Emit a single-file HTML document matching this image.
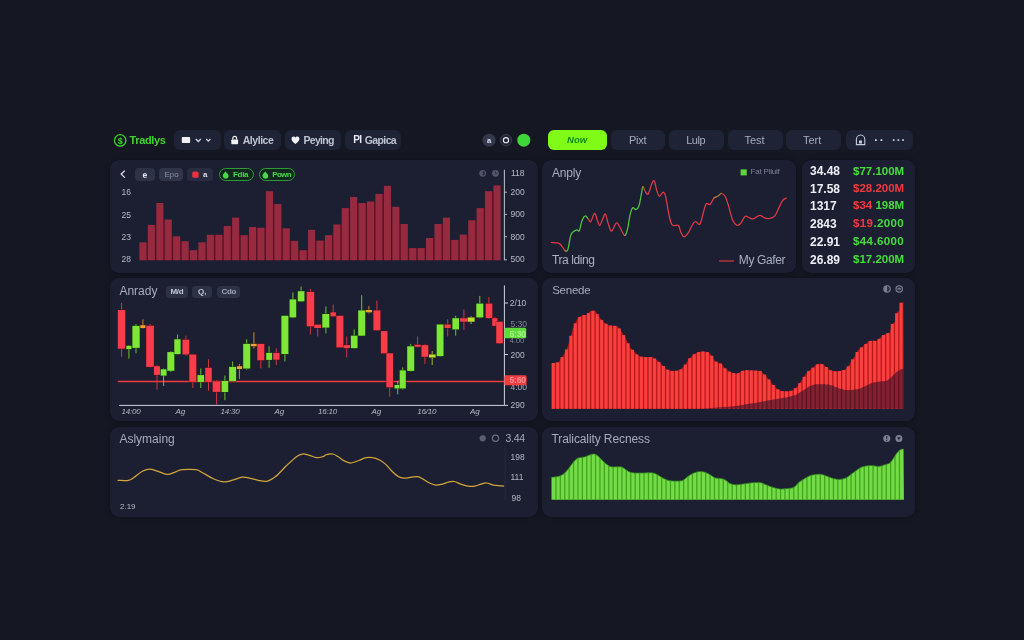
<!DOCTYPE html>
<html><head><meta charset="utf-8"><title>Tradlys</title>
<style>
html,body{margin:0;padding:0;}
body{width:1024px;height:640px;overflow:hidden;background:#151823;font-family:"Liberation Sans",sans-serif;position:relative;}
.bgv{position:absolute;left:0;top:0;width:1024px;height:640px;background:radial-gradient(ellipse 70% 75% at 50% 50%, rgba(28,32,48,0.12) 0%, rgba(20,23,34,0) 70%, rgba(8,9,14,0.10) 100%);}
.p{position:absolute;background:#1c1f32;border-radius:9px;box-shadow:0 0 5px rgba(5,6,12,0.35);}
.b{position:absolute;top:130px;height:19.5px;background:#1e2336;border-radius:6px;}
.t{position:absolute;white-space:nowrap;line-height:1;}
.ttl{color:#a6abbc;font-size:12px;}
.ax{color:#b6bac7;font-size:8.5px;}
.chip{position:absolute;border-radius:4px;background:#2d3246;}
svg{position:absolute;left:0;top:0;filter:blur(0.3px);}
.t{filter:blur(0.25px);}
.num{font-size:12px;font-weight:bold;color:#eef0f6;}
.val{font-size:11.5px;font-weight:bold;}
.g{color:#43dd3a;} .r{color:#f2383e;}
</style></head><body>

<!-- top bar -->
<div class="t" style="left:129.5px;top:134.5px;font-size:11px;font-weight:bold;color:#3fd22e;letter-spacing:-0.35px;">Tradlys</div>
<div class="b" style="left:173.6px;width:47.5px;"></div>
<div class="b" style="left:224.4px;width:56.9px;"></div>
<div class="b" style="left:285px;width:56.3px;"></div>
<div class="b" style="left:345.4px;width:55.6px;"></div>
<div class="t" style="left:242.7px;top:135.2px;font-size:10.5px;font-weight:bold;color:#bfc3d1;letter-spacing:-0.45px;">Alylice</div>
<div class="t" style="left:303.5px;top:135.2px;font-size:10.5px;font-weight:bold;color:#bfc3d1;letter-spacing:-0.7px;">Peying</div>
<div class="t" style="left:364.7px;top:135.2px;font-size:10.5px;font-weight:bold;color:#bfc3d1;letter-spacing:-0.6px;">Gapica</div>
<div class="t" style="left:353.3px;top:135.4px;font-size:10px;font-weight:bold;color:#e8eaf2;letter-spacing:-0.6px;">PI</div>

<div class="b" style="left:548px;width:58.7px;background:#80fb18;border-radius:6px;"></div>
<div class="t" style="left:567px;top:134.9px;font-size:9.5px;font-weight:bold;font-style:italic;color:#0f8a14;letter-spacing:0.1px;">Now</div>
<div class="b" style="left:610.8px;width:54px;"></div>
<div class="b" style="left:668.9px;width:54.7px;"></div>
<div class="b" style="left:728px;width:54.8px;"></div>
<div class="b" style="left:786px;width:55.2px;"></div>
<div class="b" style="left:846.2px;width:66.5px;"></div>
<div class="t" style="left:629px;top:134.6px;font-size:11px;color:#a7acbd;letter-spacing:-0.25px;">Pixt</div>
<div class="t" style="left:686.2px;top:134.6px;font-size:11px;color:#a7acbd;letter-spacing:-0.45px;">Lulp</div>
<div class="t" style="left:744.5px;top:134.6px;font-size:11px;color:#a7acbd;">Test</div>
<div class="t" style="left:803px;top:134.6px;font-size:11px;color:#a7acbd;">Tert</div>

<!-- panels -->
<div class="p" style="left:109.5px;top:160px;width:428px;height:112.5px;"></div>
<div class="p" style="left:542px;top:160px;width:253.5px;height:112.5px;"></div>
<div class="p" style="left:801.5px;top:160px;width:113.5px;height:112.5px;"></div>
<div class="p" style="left:109.5px;top:278px;width:428px;height:143.3px;"></div>
<div class="p" style="left:542px;top:278px;width:373px;height:143.3px;"></div>
<div class="p" style="left:109.5px;top:427.3px;width:428px;height:90px;"></div>
<div class="p" style="left:542px;top:427.3px;width:373px;height:90px;"></div>

<!-- panel 1 chips -->
<div class="chip" style="left:134.9px;top:168.4px;width:20.2px;height:12.2px;"></div>
<div class="chip" style="left:158.9px;top:168.4px;width:24.3px;height:12.2px;background:#30354a;"></div>
<div class="chip" style="left:186.6px;top:168.4px;width:26.3px;height:12.2px;background:#272c41;"></div>
<div class="chip" style="left:218.9px;top:168.4px;width:33.6px;height:10.2px;border-radius:7px;border:1px solid #2f9a35;background:#10271d;"></div>
<div class="chip" style="left:258.6px;top:168.4px;width:34.2px;height:10.2px;border-radius:7px;border:1px solid #2f9a35;background:#10271d;"></div>
<div class="t" style="left:142.5px;top:170.6px;font-size:8.5px;font-weight:bold;color:#e6e8f0;">e</div>
<div class="t" style="left:164.5px;top:170.8px;font-size:8px;color:#8b91a6;">Epo</div>
<div class="t" style="left:203px;top:170.8px;font-size:8px;font-weight:bold;color:#d6d9e4;">a</div>
<div class="t" style="left:233px;top:170.8px;font-size:8px;font-weight:bold;color:#45d84a;letter-spacing:-0.3px;">Fdia</div>
<div class="t" style="left:272.3px;top:170.8px;font-size:8px;font-weight:bold;color:#45d84a;letter-spacing:-0.7px;">Pown</div>

<!-- panel 1 axis labels -->
<div class="t ax" style="left:121.5px;top:188px;">16</div>
<div class="t ax" style="left:121.5px;top:210.6px;">25</div>
<div class="t ax" style="left:121.5px;top:232.8px;">23</div>
<div class="t ax" style="left:121.5px;top:254.6px;">28</div>
<div class="t ax" style="left:511px;top:169.2px;">118</div>
<div class="t ax" style="left:510.5px;top:188px;">200</div>
<div class="t ax" style="left:510.5px;top:210.2px;">900</div>
<div class="t ax" style="left:510.5px;top:232.5px;">800</div>
<div class="t ax" style="left:510.5px;top:254.6px;">500</div>

<!-- panel 2 texts -->
<div class="t ttl" style="left:552px;top:167.2px;letter-spacing:-0.2px;">Anply</div>
<div class="t" style="left:750.5px;top:168.4px;font-size:8px;color:#7d8398;letter-spacing:-0.2px;">Fat Pilulf</div>
<div class="t ttl" style="left:552px;top:253.6px;color:#aab0c1;letter-spacing:-0.43px;">Tra lding</div>
<div class="t ttl" style="left:738.8px;top:253.6px;color:#aab0c1;letter-spacing:-0.36px;">My Gafer</div>

<!-- panel 3 numbers -->
<div class="t num" style="left:810px;top:165.4px;">34.48</div><div class="t val g" style="left:853px;top:165.6px;">$77.100M</div>
<div class="t num" style="left:810px;top:182.8px;">17.58</div><div class="t val r" style="left:853px;top:183px;">$28.200M</div>
<div class="t num" style="left:810px;top:200.2px;">1317</div><div class="t val" style="left:853px;top:200.4px;"><span class="r">$34</span> <span class="g">198M</span></div>
<div class="t num" style="left:810px;top:217.8px;">2843</div><div class="t val" style="left:853px;top:218px;"><span class="r" style="letter-spacing:0.4px">$19</span><span class="g" style="letter-spacing:0.4px">.2000</span></div>
<div class="t num" style="left:810px;top:236.2px;">22.91</div><div class="t val g" style="left:853px;top:236.4px;letter-spacing:0.4px;">$44.6000</div>
<div class="t num" style="left:810px;top:253.6px;">26.89</div><div class="t val g" style="left:853px;top:253.8px;">$17.200M</div>

<!-- panel 4 texts -->
<div class="t ttl" style="left:119.4px;top:284.6px;">Anrady</div>
<div class="chip" style="left:166px;top:285.6px;width:22.4px;height:12.6px;"></div>
<div class="chip" style="left:192.3px;top:285.6px;width:20px;height:12.6px;"></div>
<div class="chip" style="left:217px;top:285.6px;width:23px;height:12.6px;"></div>
<div class="t" style="left:170.5px;top:288px;font-size:8px;font-weight:bold;color:#c4c8d6;letter-spacing:-0.3px;">M/d</div>
<div class="t" style="left:198px;top:288px;font-size:8px;font-weight:bold;color:#c4c8d6;">Q,</div>
<div class="t" style="left:221.5px;top:288px;font-size:8px;font-weight:bold;color:#9fa5b8;letter-spacing:-0.3px;">Cdo</div>

<div class="t ax" style="left:121.6px;top:408.4px;font-size:8px;font-style:italic;letter-spacing:-0.2px;">14:00</div>
<div class="t ax" style="left:175.5px;top:408.4px;font-size:8px;font-style:italic;">Ag</div>
<div class="t ax" style="left:220.5px;top:408.4px;font-size:8px;font-style:italic;letter-spacing:-0.2px;">14:30</div>
<div class="t ax" style="left:274.4px;top:408.4px;font-size:8px;font-style:italic;">Ag</div>
<div class="t ax" style="left:318px;top:408.4px;font-size:8px;font-style:italic;letter-spacing:-0.2px;">16:10</div>
<div class="t ax" style="left:371.5px;top:408.4px;font-size:8px;font-style:italic;">Ag</div>
<div class="t ax" style="left:417.2px;top:408.4px;font-size:8px;font-style:italic;letter-spacing:-0.2px;">16/10</div>
<div class="t ax" style="left:470px;top:408.4px;font-size:8px;font-style:italic;">Ag</div>

<div class="t ax" style="left:509.8px;top:298.8px;">2/10</div>
<div class="t ax" style="left:510.5px;top:320.2px;color:#7f8598;">5:30</div>
<div class="t ax" style="left:510.5px;top:350.8px;">200</div>
<div class="t ax" style="left:510.5px;top:383.4px;color:#a9aebd;">4:00</div>
<div class="t ax" style="left:510.5px;top:401.2px;">290</div>

<!-- panel 5/6/7 texts -->
<div class="t ttl" style="left:552.2px;top:285px;font-size:11.5px;letter-spacing:-0.25px;">Senede</div>
<div class="t ttl" style="left:119.4px;top:432.8px;">Aslymaing</div>
<div class="t ttl" style="left:551.5px;top:432.8px;letter-spacing:-0.1px;">Tralicality Recness</div>
<div class="t ax" style="left:120px;top:502.8px;font-size:8px;">2.19</div>
<div class="t" style="left:505.5px;top:433.2px;font-size:10.5px;color:#a3a9bb;letter-spacing:-0.3px;">3.44</div>
<div class="t ax" style="left:510.5px;top:452.6px;color:#b4b9c8;">198</div>
<div class="t ax" style="left:510.5px;top:473px;color:#b4b9c8;">111</div>
<div class="t ax" style="left:511.5px;top:493.8px;color:#b4b9c8;">98</div>

<svg width="1024" height="640" viewBox="0 0 1024 640">
<!-- logo -->
<circle cx="120.2" cy="140.4" r="5.7" fill="none" stroke="#3fd22e" stroke-width="1.3"/>
<text x="120.2" y="143.6" font-family="Liberation Sans" font-size="9" font-weight="bold" fill="#3fd22e" text-anchor="middle">$</text>
<!-- btn1 icons -->
<rect x="181.8" y="137.1" width="8.3" height="5.9" rx="0.8" fill="#f1eef4"/>
<polyline points="195.8,139 198.3,141.5 200.8,139" fill="none" stroke="#d4d7e2" stroke-width="1.3"/>
<polyline points="206.2,139 208.3,141.2 210.4,139" fill="none" stroke="#d4d7e2" stroke-width="1.2"/>
<!-- lock -->
<rect x="231.3" y="139.4" width="6.8" height="4.9" rx="0.8" fill="#f1f1f6"/>
<path d="M232.8,139.6 v-1.4 a1.9,1.9 0 0 1 3.8,0 v1.4" fill="none" stroke="#f1f1f6" stroke-width="1.2"/>
<!-- heart -->
<path d="M295.4,144 C292.6,141.8 291.5,140.3 291.5,138.7 C291.5,137.4 292.5,136.5 293.6,136.5 C294.4,136.5 295.1,136.9 295.4,137.6 C295.7,136.9 296.4,136.5 297.2,136.5 C298.4,136.5 299.4,137.4 299.4,138.7 C299.4,140.3 298.2,141.8 295.4,144Z" fill="#f4f4f8"/>
<!-- center icons -->
<circle cx="489" cy="140.2" r="6.5" fill="#33384c"/>
<circle cx="506" cy="140.2" r="5.7" fill="#1f2334" stroke="#393e52" stroke-width="1"/>
<text x="489" y="143" font-family="Liberation Sans" font-size="7.5" font-weight="bold" fill="#dfe2ec" text-anchor="middle">a</text>
<circle cx="506" cy="140.2" r="2.6" fill="none" stroke="#e8eaf2" stroke-width="1.1"/>
<circle cx="523.8" cy="140.2" r="6.5" fill="#3fd63a"/>
<!-- last button icons -->
<path d="M856.4,144.6 v-5 a4.2,4.6 0 0 1 8.4,0 v5 z" fill="none" stroke="#c8cbe0" stroke-width="1.1"/>
<rect x="859" y="140.5" width="3" height="3" fill="#c8cbe0"/>
<rect x="875" y="139.2" width="1.8" height="1.8" fill="#d0d3e0"/><rect x="880.5" y="139.2" width="1.8" height="1.8" fill="#d0d3e0"/>
<rect x="892.8" y="139.2" width="1.7" height="1.7" fill="#d0d3e0"/><rect x="897.5" y="139.2" width="1.7" height="1.7" fill="#d0d3e0"/><rect x="902.2" y="139.2" width="1.7" height="1.7" fill="#d0d3e0"/>

<!-- panel1 -->
<polyline points="124.8,170.6 121.2,174.1 124.8,177.6" fill="none" stroke="#e2e4ec" stroke-width="1.3"/>
<rect x="192.3" y="171.6" width="6.3" height="6.2" rx="1.6" fill="#ee2f3e"/>
<path d="M223,176.8 c-0.8,-2 0.4,-3.4 2.6,-5.4 c0.6,1.4 3,2.4 3,4.6 c0,1.8 -1.4,2.8 -2.9,2.8 c-1.3,0 -2.2,-0.7 -2.7,-2z" fill="#45d84a"/>
<path d="M262.7,176.8 c-0.8,-2 0.4,-3.4 2.6,-5.4 c0.6,1.4 3,2.4 3,4.6 c0,1.8 -1.4,2.8 -2.9,2.8 c-1.3,0 -2.2,-0.7 -2.7,-2z" fill="#45d84a"/>
<g fill="#5a0f24"><rect x="146.3" y="242.3" width="1.7" height="18.0"/><rect x="154.7" y="224.9" width="1.7" height="35.4"/><rect x="163.2" y="219.5" width="1.7" height="40.8"/><rect x="171.6" y="236.3" width="1.7" height="24.0"/><rect x="180.0" y="241.2" width="1.7" height="19.1"/><rect x="188.5" y="250.2" width="1.7" height="10.1"/><rect x="196.9" y="250.2" width="1.7" height="10.1"/><rect x="205.3" y="242.3" width="1.7" height="18.0"/><rect x="213.7" y="234.8" width="1.7" height="25.5"/><rect x="222.2" y="234.8" width="1.7" height="25.5"/><rect x="230.6" y="226.0" width="1.7" height="34.3"/><rect x="239.0" y="235.2" width="1.7" height="25.1"/><rect x="247.5" y="235.2" width="1.7" height="25.1"/><rect x="255.9" y="227.7" width="1.7" height="32.6"/><rect x="264.3" y="227.7" width="1.7" height="32.6"/><rect x="272.8" y="204.0" width="1.7" height="56.3"/><rect x="281.2" y="228.3" width="1.7" height="32.0"/><rect x="289.6" y="240.8" width="1.7" height="19.5"/><rect x="298.0" y="250.2" width="1.7" height="10.1"/><rect x="306.5" y="250.2" width="1.7" height="10.1"/><rect x="314.9" y="240.6" width="1.7" height="19.7"/><rect x="323.3" y="240.6" width="1.7" height="19.7"/><rect x="331.8" y="235.2" width="1.7" height="25.1"/><rect x="340.2" y="224.5" width="1.7" height="35.8"/><rect x="348.6" y="208.1" width="1.7" height="52.2"/><rect x="357.1" y="203.0" width="1.7" height="57.3"/><rect x="365.5" y="203.0" width="1.7" height="57.3"/><rect x="373.9" y="201.5" width="1.7" height="58.8"/><rect x="382.3" y="193.9" width="1.7" height="66.4"/><rect x="390.8" y="206.8" width="1.7" height="53.5"/><rect x="399.2" y="224.0" width="1.7" height="36.3"/><rect x="407.6" y="248.1" width="1.7" height="12.2"/><rect x="416.1" y="248.1" width="1.7" height="12.2"/><rect x="424.5" y="248.1" width="1.7" height="12.2"/><rect x="432.9" y="238.0" width="1.7" height="22.3"/><rect x="441.4" y="224.0" width="1.7" height="36.3"/><rect x="449.8" y="239.9" width="1.7" height="20.4"/><rect x="458.2" y="239.9" width="1.7" height="20.4"/><rect x="466.6" y="234.6" width="1.7" height="25.7"/><rect x="475.1" y="220.2" width="1.7" height="40.1"/><rect x="483.5" y="208.1" width="1.7" height="52.2"/><rect x="491.9" y="191.2" width="1.7" height="69.1"/></g><g fill="#982a40"><rect x="139.4" y="242.3" width="7.1" height="18.0"/><rect x="147.8" y="224.9" width="7.1" height="35.4"/><rect x="156.3" y="203.0" width="7.1" height="57.3"/><rect x="164.7" y="219.5" width="7.1" height="40.8"/><rect x="173.1" y="236.3" width="7.1" height="24.0"/><rect x="181.6" y="241.2" width="7.1" height="19.1"/><rect x="190.0" y="250.2" width="7.1" height="10.1"/><rect x="198.4" y="242.3" width="7.1" height="18.0"/><rect x="206.8" y="234.8" width="7.1" height="25.5"/><rect x="215.3" y="234.8" width="7.1" height="25.5"/><rect x="223.7" y="226.0" width="7.1" height="34.3"/><rect x="232.1" y="217.6" width="7.1" height="42.7"/><rect x="240.6" y="235.2" width="7.1" height="25.1"/><rect x="249.0" y="227.0" width="7.1" height="33.3"/><rect x="257.4" y="227.7" width="7.1" height="32.6"/><rect x="265.9" y="191.2" width="7.1" height="69.1"/><rect x="274.3" y="204.0" width="7.1" height="56.3"/><rect x="282.7" y="228.3" width="7.1" height="32.0"/><rect x="291.1" y="240.8" width="7.1" height="19.5"/><rect x="299.6" y="250.2" width="7.1" height="10.1"/><rect x="308.0" y="229.8" width="7.1" height="30.5"/><rect x="316.4" y="240.6" width="7.1" height="19.7"/><rect x="324.9" y="235.2" width="7.1" height="25.1"/><rect x="333.3" y="224.5" width="7.1" height="35.8"/><rect x="341.7" y="208.1" width="7.1" height="52.2"/><rect x="350.1" y="197.0" width="7.1" height="63.3"/><rect x="358.6" y="203.0" width="7.1" height="57.3"/><rect x="367.0" y="201.5" width="7.1" height="58.8"/><rect x="375.4" y="193.9" width="7.1" height="66.4"/><rect x="383.9" y="185.8" width="7.1" height="74.5"/><rect x="392.3" y="206.8" width="7.1" height="53.5"/><rect x="400.7" y="224.0" width="7.1" height="36.3"/><rect x="409.2" y="248.1" width="7.1" height="12.2"/><rect x="417.6" y="248.1" width="7.1" height="12.2"/><rect x="426.0" y="238.0" width="7.1" height="22.3"/><rect x="434.5" y="224.0" width="7.1" height="36.3"/><rect x="442.9" y="217.6" width="7.1" height="42.7"/><rect x="451.3" y="239.9" width="7.1" height="20.4"/><rect x="459.7" y="234.6" width="7.1" height="25.7"/><rect x="468.2" y="220.2" width="7.1" height="40.1"/><rect x="476.6" y="208.1" width="7.1" height="52.2"/><rect x="485.0" y="191.2" width="7.1" height="69.1"/><rect x="493.5" y="185.4" width="7.1" height="74.9"/></g>
<line x1="504.4" x2="504.4" y1="169.7" y2="260.3" stroke="#b4b8c4" stroke-width="1.1"/>
<g stroke="#b4b8c4" stroke-width="1"><line x1="504.4" x2="507" y1="192.2" y2="192.2"/><line x1="504.4" x2="507" y1="214.4" y2="214.4"/><line x1="504.4" x2="507" y1="236.7" y2="236.7"/><line x1="504.4" x2="507" y1="259.8" y2="259.8"/></g>
<circle cx="482.7" cy="173.3" r="3.4" fill="#50556a"/><circle cx="495.5" cy="173.3" r="3.4" fill="#50556a"/><path d="M482.7,170.9 v4.8 a2.4,2.4 0 0 0 0,-4.8z" fill="#2a2f42"/><path d="M495.5,171.3 v2.2 h2" stroke="#2a2f42" stroke-width="0.9" fill="none"/>

<!-- panel2 -->
<path d="M551.4,242.5C552.7,242.7 557.1,242.4 559.0,243.3C560.9,244.1 561.8,246.3 562.9,247.6C563.9,248.9 564.5,250.6 565.4,250.9" fill="none" stroke="#e23a44" stroke-width="1.25" stroke-linecap="round"/><path d="M565.4,250.9C566.2,251.2 567.1,251.8 567.9,249.4C568.8,246.9 569.7,239.0 570.5,236.2C571.2,233.3 571.4,233.4 572.5,232.4C573.6,231.3 575.7,230.1 576.8,229.8C578.0,229.5 578.5,232.1 579.4,230.6C580.2,229.1 580.9,223.4 581.9,220.9C582.9,218.5 584.1,216.2 585.2,215.9C586.3,215.5 587.3,217.9 588.2,218.9" fill="none" stroke="#4cc83c" stroke-width="1.25" stroke-linecap="round"/><path d="M588.2,218.9C589.2,219.9 589.7,222.6 590.8,221.7C591.8,220.8 593.5,213.7 594.6,213.3C595.7,213.0 596.3,217.6 597.1,219.7C598.0,221.7 598.7,225.7 599.7,225.5C600.6,225.3 602.0,220.3 603.0,218.4C603.9,216.5 604.6,213.0 605.5,214.1C606.4,215.1 607.5,221.9 608.6,224.8C609.6,227.6 610.3,231.4 611.6,231.1C612.9,230.8 614.9,223.8 616.2,223.0C617.5,222.1 618.2,224.5 619.2,226.0C620.3,227.6 621.6,230.8 622.5,232.4C623.5,233.9 624.2,236.1 625.1,235.4" fill="none" stroke="#e23a44" stroke-width="1.25" stroke-linecap="round"/><path d="M625.1,235.4C625.9,234.8 626.8,232.0 627.6,228.6C628.5,225.1 629.3,218.1 630.1,214.6C631.0,211.1 631.7,208.6 632.7,207.7C633.7,206.9 634.9,209.9 636.0,209.5C637.0,209.2 638.2,208.0 639.0,205.7C639.9,203.4 640.4,198.7 641.1,195.6C641.7,192.4 642.3,187.6 642.8,186.7" fill="none" stroke="#4cc83c" stroke-width="1.25" stroke-linecap="round"/><path d="M642.8,186.7C643.4,185.7 643.8,188.7 644.6,190.0C645.5,191.2 646.7,195.3 647.9,194.3C649.1,193.3 650.7,186.4 651.7,184.1C652.8,181.9 653.4,179.8 654.3,180.8C655.1,181.9 656.0,187.9 656.8,190.5C657.7,193.1 658.3,196.0 659.3,196.3C660.4,196.6 662.1,192.2 663.2,192.2C664.2,192.3 664.9,193.7 665.7,196.8C666.5,199.9 667.4,206.6 668.2,210.8C669.1,215.0 669.9,219.8 670.8,222.2C671.6,224.7 672.0,225.0 673.3,225.5C674.6,226.1 677.1,224.4 678.4,225.5C679.7,226.7 680.0,230.5 680.9,232.4C681.9,234.3 682.7,236.9 684.0,236.9C685.3,236.9 687.2,234.4 688.6,232.4C689.9,230.3 691.2,226.6 692.4,224.8C693.5,222.9 694.1,221.6 695.4,221.5C696.7,221.3 698.6,225.8 700.0,224.0C701.4,222.2 702.7,214.2 703.8,210.8C704.8,207.4 705.3,204.7 706.3,203.7C707.4,202.6 708.9,205.4 710.1,204.4C711.4,203.5 712.7,199.4 713.9,198.1" fill="none" stroke="#e23a44" stroke-width="1.25" stroke-linecap="round"/><path d="M713.9,198.1C715.2,196.7 716.5,197.1 717.8,196.3C719.0,195.6 720.3,193.4 721.6,193.5" fill="none" stroke="#b8843a" stroke-width="1.25" stroke-linecap="round"/><path d="M721.6,193.5C722.8,193.6 724.1,194.4 725.4,196.8C726.6,199.3 728.0,204.4 729.2,208.2C730.4,212.1 731.2,216.8 732.5,219.7C733.8,222.5 735.4,224.6 736.8,225.3C738.2,225.9 739.2,225.0 740.6,223.5C742.0,222.0 743.7,217.3 745.2,216.4C746.7,215.4 748.1,217.5 749.5,217.9C750.9,218.3 751.6,219.3 753.3,218.9C755.0,218.5 757.8,215.5 759.7,215.4C761.6,215.2 763.0,217.4 764.7,217.9C766.4,218.4 768.1,218.7 769.8,218.4C771.5,218.1 773.4,217.6 774.9,215.9C776.4,214.2 777.4,210.8 778.7,208.2C780.0,205.7 781.2,202.3 782.5,200.6C783.8,198.9 785.7,198.5 786.3,198.1" fill="none" stroke="#e23a44" stroke-width="1.25" stroke-linecap="round"/>
<rect x="740.6" y="169.4" width="6.2" height="6" fill="#5fd23c"/>
<line x1="719" x2="734" y1="261" y2="261" stroke="#d63a40" stroke-width="1.2"/>

<!-- panel4 -->
<line x1="117.8" x2="504.4" y1="381.4" y2="381.4" stroke="#ee3a3c" stroke-width="1.5"/>
<line x1="121.6" x2="121.6" y1="302.9" y2="356.8" stroke="#f93c49" stroke-width="0.9" stroke-opacity="0.9"/><rect x="117.8" y="310.0" width="7.5" height="38.7" fill="#f93c49" stroke="#4a0c1a" stroke-width="1.0" stroke-opacity="0.8" paint-order="stroke"/><line x1="128.9" x2="128.9" y1="345.1" y2="358.5" stroke="#7de637" stroke-width="0.9" stroke-opacity="0.9"/><rect x="126.3" y="345.8" width="5.2" height="3.3" fill="#7de637" stroke="#123c10" stroke-width="1.0" stroke-opacity="0.8" paint-order="stroke"/><line x1="136.0" x2="136.0" y1="324.0" y2="353.3" stroke="#7de637" stroke-width="0.9" stroke-opacity="0.9"/><rect x="132.4" y="325.9" width="7.3" height="22.0" fill="#7de637" stroke="#123c10" stroke-width="1.0" stroke-opacity="0.8" paint-order="stroke"/><line x1="142.9" x2="142.9" y1="319.3" y2="328.7" stroke="#f0a030" stroke-width="0.9" stroke-opacity="0.9"/><rect x="140.3" y="325.2" width="5.2" height="2.8" fill="#f0a030" stroke="#3a2a10" stroke-width="1.0" stroke-opacity="0.8" paint-order="stroke"/><line x1="150.1" x2="150.1" y1="324.0" y2="367.4" stroke="#f93c49" stroke-width="0.9" stroke-opacity="0.9"/><rect x="146.2" y="325.7" width="7.7" height="41.2" fill="#f93c49" stroke="#4a0c1a" stroke-width="1.0" stroke-opacity="0.8" paint-order="stroke"/><line x1="157.0" x2="157.0" y1="365.0" y2="389.6" stroke="#f93c49" stroke-width="0.9" stroke-opacity="0.9"/><rect x="153.9" y="366.2" width="6.1" height="8.7" fill="#f93c49" stroke="#4a0c1a" stroke-width="1.0" stroke-opacity="0.8" paint-order="stroke"/><line x1="163.6" x2="163.6" y1="368.5" y2="386.1" stroke="#7de637" stroke-width="0.9" stroke-opacity="0.9"/><rect x="160.7" y="369.3" width="5.9" height="6.3" fill="#7de637" stroke="#123c10" stroke-width="1.0" stroke-opacity="0.8" paint-order="stroke"/><line x1="170.8" x2="170.8" y1="351.0" y2="372.1" stroke="#7de637" stroke-width="0.9" stroke-opacity="0.9"/><rect x="167.3" y="352.1" width="7.0" height="18.7" fill="#7de637" stroke="#123c10" stroke-width="1.0" stroke-opacity="0.8" paint-order="stroke"/><line x1="177.5" x2="177.5" y1="334.6" y2="354.5" stroke="#7de637" stroke-width="0.9" stroke-opacity="0.9"/><rect x="174.3" y="339.3" width="6.3" height="14.8" fill="#7de637" stroke="#123c10" stroke-width="1.0" stroke-opacity="0.8" paint-order="stroke"/><line x1="185.9" x2="185.9" y1="335.7" y2="355.7" stroke="#f93c49" stroke-width="0.9" stroke-opacity="0.9"/><rect x="182.5" y="339.7" width="6.8" height="14.8" fill="#f93c49" stroke="#4a0c1a" stroke-width="1.0" stroke-opacity="0.8" paint-order="stroke"/><line x1="192.8" x2="192.8" y1="354.5" y2="388.0" stroke="#f93c49" stroke-width="0.9" stroke-opacity="0.9"/><rect x="189.3" y="354.5" width="7.0" height="27.4" fill="#f93c49" stroke="#4a0c1a" stroke-width="1.0" stroke-opacity="0.8" paint-order="stroke"/><line x1="200.8" x2="200.8" y1="368.5" y2="388.0" stroke="#7de637" stroke-width="0.9" stroke-opacity="0.9"/><rect x="197.5" y="375.1" width="6.6" height="6.8" fill="#7de637" stroke="#123c10" stroke-width="1.0" stroke-opacity="0.8" paint-order="stroke"/><line x1="208.5" x2="208.5" y1="359.2" y2="390.8" stroke="#f93c49" stroke-width="0.9" stroke-opacity="0.9"/><rect x="205.2" y="367.8" width="6.6" height="14.1" fill="#f93c49" stroke="#4a0c1a" stroke-width="1.0" stroke-opacity="0.8" paint-order="stroke"/><line x1="216.6" x2="216.6" y1="380.3" y2="404.4" stroke="#f93c49" stroke-width="0.9" stroke-opacity="0.9"/><rect x="212.7" y="381.4" width="7.7" height="10.5" fill="#f93c49" stroke="#4a0c1a" stroke-width="1.0" stroke-opacity="0.8" paint-order="stroke"/><line x1="224.9" x2="224.9" y1="375.6" y2="400.2" stroke="#7de637" stroke-width="0.9" stroke-opacity="0.9"/><rect x="221.6" y="381.0" width="6.6" height="11.0" fill="#7de637" stroke="#123c10" stroke-width="1.0" stroke-opacity="0.8" paint-order="stroke"/><line x1="232.6" x2="232.6" y1="361.5" y2="381.4" stroke="#7de637" stroke-width="0.9" stroke-opacity="0.9"/><rect x="229.1" y="366.9" width="7.0" height="14.1" fill="#7de637" stroke="#123c10" stroke-width="1.0" stroke-opacity="0.8" paint-order="stroke"/><line x1="239.4" x2="239.4" y1="363.9" y2="379.1" stroke="#f0a030" stroke-width="0.9" stroke-opacity="0.9"/><rect x="236.9" y="366.2" width="5.2" height="2.8" fill="#f0a030" stroke="#3a2a10" stroke-width="1.0" stroke-opacity="0.8" paint-order="stroke"/><line x1="246.7" x2="246.7" y1="339.3" y2="369.7" stroke="#7de637" stroke-width="0.9" stroke-opacity="0.9"/><rect x="243.2" y="343.9" width="7.0" height="24.6" fill="#7de637" stroke="#123c10" stroke-width="1.0" stroke-opacity="0.8" paint-order="stroke"/><line x1="253.9" x2="253.9" y1="332.2" y2="348.6" stroke="#f0a030" stroke-width="0.9" stroke-opacity="0.9"/><rect x="250.9" y="343.9" width="5.9" height="2.3" fill="#f0a030" stroke="#3a2a10" stroke-width="1.0" stroke-opacity="0.8" paint-order="stroke"/><line x1="260.8" x2="260.8" y1="343.9" y2="368.5" stroke="#f93c49" stroke-width="0.9" stroke-opacity="0.9"/><rect x="257.3" y="343.9" width="7.0" height="16.4" fill="#f93c49" stroke="#4a0c1a" stroke-width="1.0" stroke-opacity="0.8" paint-order="stroke"/><line x1="269.1" x2="269.1" y1="346.3" y2="367.8" stroke="#7de637" stroke-width="0.9" stroke-opacity="0.9"/><rect x="266.2" y="352.9" width="5.9" height="7.0" fill="#7de637" stroke="#123c10" stroke-width="1.0" stroke-opacity="0.8" paint-order="stroke"/><line x1="276.3" x2="276.3" y1="348.2" y2="365.0" stroke="#f93c49" stroke-width="0.9" stroke-opacity="0.9"/><rect x="273.2" y="352.9" width="6.3" height="6.8" fill="#f93c49" stroke="#4a0c1a" stroke-width="1.0" stroke-opacity="0.8" paint-order="stroke"/><line x1="284.9" x2="284.9" y1="315.8" y2="361.5" stroke="#7de637" stroke-width="0.9" stroke-opacity="0.9"/><rect x="281.4" y="315.8" width="7.0" height="38.2" fill="#7de637" stroke="#123c10" stroke-width="1.0" stroke-opacity="0.8" paint-order="stroke"/><line x1="292.9" x2="292.9" y1="292.4" y2="318.2" stroke="#7de637" stroke-width="0.9" stroke-opacity="0.9"/><rect x="289.6" y="299.4" width="6.6" height="18.0" fill="#7de637" stroke="#123c10" stroke-width="1.0" stroke-opacity="0.8" paint-order="stroke"/><line x1="301.1" x2="301.1" y1="286.5" y2="301.8" stroke="#7de637" stroke-width="0.9" stroke-opacity="0.9"/><rect x="297.8" y="291.2" width="6.6" height="10.1" fill="#7de637" stroke="#123c10" stroke-width="1.0" stroke-opacity="0.8" paint-order="stroke"/><line x1="310.4" x2="310.4" y1="288.9" y2="334.6" stroke="#f93c49" stroke-width="0.9" stroke-opacity="0.9"/><rect x="306.7" y="291.9" width="7.5" height="34.4" fill="#f93c49" stroke="#4a0c1a" stroke-width="1.0" stroke-opacity="0.8" paint-order="stroke"/><line x1="317.7" x2="317.7" y1="324.0" y2="336.4" stroke="#f93c49" stroke-width="0.9" stroke-opacity="0.9"/><rect x="314.2" y="324.7" width="7.0" height="3.3" fill="#f93c49" stroke="#4a0c1a" stroke-width="1.0" stroke-opacity="0.8" paint-order="stroke"/><line x1="325.9" x2="325.9" y1="306.5" y2="333.4" stroke="#7de637" stroke-width="0.9" stroke-opacity="0.9"/><rect x="322.3" y="314.0" width="7.0" height="13.6" fill="#7de637" stroke="#123c10" stroke-width="1.0" stroke-opacity="0.8" paint-order="stroke"/><line x1="333.2" x2="333.2" y1="304.6" y2="317.0" stroke="#f93c49" stroke-width="0.9" stroke-opacity="0.9"/><rect x="330.5" y="312.3" width="5.4" height="4.0" fill="#f93c49" stroke="#4a0c1a" stroke-width="1.0" stroke-opacity="0.8" paint-order="stroke"/><line x1="339.9" x2="339.9" y1="315.8" y2="347.5" stroke="#f93c49" stroke-width="0.9" stroke-opacity="0.9"/><rect x="336.4" y="315.8" width="7.0" height="31.6" fill="#f93c49" stroke="#4a0c1a" stroke-width="1.0" stroke-opacity="0.8" paint-order="stroke"/><line x1="346.7" x2="346.7" y1="336.4" y2="357.5" stroke="#f93c49" stroke-width="0.9" stroke-opacity="0.9"/><rect x="343.4" y="345.1" width="6.6" height="3.0" fill="#f93c49" stroke="#4a0c1a" stroke-width="1.0" stroke-opacity="0.8" paint-order="stroke"/><line x1="354.2" x2="354.2" y1="329.4" y2="348.6" stroke="#7de637" stroke-width="0.9" stroke-opacity="0.9"/><rect x="350.9" y="335.7" width="6.6" height="12.4" fill="#7de637" stroke="#123c10" stroke-width="1.0" stroke-opacity="0.8" paint-order="stroke"/><line x1="361.7" x2="361.7" y1="295.2" y2="335.7" stroke="#7de637" stroke-width="0.9" stroke-opacity="0.9"/><rect x="358.2" y="310.4" width="7.0" height="25.3" fill="#7de637" stroke="#123c10" stroke-width="1.0" stroke-opacity="0.8" paint-order="stroke"/><line x1="368.9" x2="368.9" y1="306.0" y2="313.5" stroke="#f0a030" stroke-width="0.9" stroke-opacity="0.9"/><rect x="365.7" y="310.0" width="6.3" height="2.3" fill="#f0a030" stroke="#3a2a10" stroke-width="1.0" stroke-opacity="0.8" paint-order="stroke"/><line x1="376.9" x2="376.9" y1="300.6" y2="331.1" stroke="#f93c49" stroke-width="0.9" stroke-opacity="0.9"/><rect x="373.4" y="310.4" width="7.0" height="19.9" fill="#f93c49" stroke="#4a0c1a" stroke-width="1.0" stroke-opacity="0.8" paint-order="stroke"/><line x1="384.2" x2="384.2" y1="331.1" y2="353.3" stroke="#f93c49" stroke-width="0.9" stroke-opacity="0.9"/><rect x="380.9" y="331.1" width="6.6" height="22.3" fill="#f93c49" stroke="#4a0c1a" stroke-width="1.0" stroke-opacity="0.8" paint-order="stroke"/><line x1="389.7" x2="389.7" y1="353.3" y2="396.7" stroke="#f93c49" stroke-width="0.9" stroke-opacity="0.9"/><rect x="386.3" y="353.3" width="6.8" height="34.0" fill="#f93c49" stroke="#4a0c1a" stroke-width="1.0" stroke-opacity="0.8" paint-order="stroke"/><line x1="397.7" x2="397.7" y1="381.4" y2="394.3" stroke="#7de637" stroke-width="0.9" stroke-opacity="0.9"/><rect x="394.5" y="385.0" width="6.3" height="3.5" fill="#7de637" stroke="#123c10" stroke-width="1.0" stroke-opacity="0.8" paint-order="stroke"/><line x1="402.7" x2="402.7" y1="367.4" y2="389.6" stroke="#7de637" stroke-width="0.9" stroke-opacity="0.9"/><rect x="399.7" y="370.4" width="6.1" height="18.0" fill="#7de637" stroke="#123c10" stroke-width="1.0" stroke-opacity="0.8" paint-order="stroke"/><line x1="410.7" x2="410.7" y1="343.9" y2="371.6" stroke="#7de637" stroke-width="0.9" stroke-opacity="0.9"/><rect x="407.2" y="346.3" width="7.0" height="24.6" fill="#7de637" stroke="#123c10" stroke-width="1.0" stroke-opacity="0.8" paint-order="stroke"/><line x1="417.6" x2="417.6" y1="336.4" y2="347.5" stroke="#f93c49" stroke-width="0.9" stroke-opacity="0.9"/><rect x="414.4" y="344.7" width="6.3" height="2.1" fill="#f93c49" stroke="#4a0c1a" stroke-width="1.0" stroke-opacity="0.8" paint-order="stroke"/><line x1="424.9" x2="424.9" y1="343.9" y2="363.9" stroke="#f93c49" stroke-width="0.9" stroke-opacity="0.9"/><rect x="421.5" y="345.1" width="6.8" height="11.7" fill="#f93c49" stroke="#4a0c1a" stroke-width="1.0" stroke-opacity="0.8" paint-order="stroke"/><line x1="432.2" x2="432.2" y1="351.0" y2="365.0" stroke="#b8e030" stroke-width="0.9" stroke-opacity="0.9"/><rect x="429.0" y="354.5" width="6.6" height="3.0" fill="#b8e030" stroke="#3a2a10" stroke-width="1.0" stroke-opacity="0.8" paint-order="stroke"/><line x1="440.1" x2="440.1" y1="324.0" y2="356.8" stroke="#7de637" stroke-width="0.9" stroke-opacity="0.9"/><rect x="436.7" y="324.5" width="6.8" height="31.6" fill="#7de637" stroke="#123c10" stroke-width="1.0" stroke-opacity="0.8" paint-order="stroke"/><line x1="447.7" x2="447.7" y1="319.3" y2="336.4" stroke="#f93c49" stroke-width="0.9" stroke-opacity="0.9"/><rect x="444.6" y="324.5" width="6.1" height="3.5" fill="#f93c49" stroke="#4a0c1a" stroke-width="1.0" stroke-opacity="0.8" paint-order="stroke"/><line x1="455.7" x2="455.7" y1="315.8" y2="335.7" stroke="#7de637" stroke-width="0.9" stroke-opacity="0.9"/><rect x="452.4" y="318.2" width="6.6" height="11.2" fill="#7de637" stroke="#123c10" stroke-width="1.0" stroke-opacity="0.8" paint-order="stroke"/><line x1="463.9" x2="463.9" y1="309.5" y2="329.9" stroke="#f93c49" stroke-width="0.9" stroke-opacity="0.9"/><rect x="460.1" y="318.2" width="7.5" height="3.5" fill="#f93c49" stroke="#4a0c1a" stroke-width="1.0" stroke-opacity="0.8" paint-order="stroke"/><line x1="471.1" x2="471.1" y1="316.3" y2="324.0" stroke="#b8e030" stroke-width="0.9" stroke-opacity="0.9"/><rect x="467.6" y="317.5" width="7.0" height="4.2" fill="#b8e030" stroke="#3a2a10" stroke-width="1.0" stroke-opacity="0.8" paint-order="stroke"/><line x1="479.8" x2="479.8" y1="295.9" y2="318.2" stroke="#7de637" stroke-width="0.9" stroke-opacity="0.9"/><rect x="476.3" y="303.6" width="7.0" height="13.8" fill="#7de637" stroke="#123c10" stroke-width="1.0" stroke-opacity="0.8" paint-order="stroke"/><line x1="488.9" x2="488.9" y1="297.1" y2="318.9" stroke="#f93c49" stroke-width="0.9" stroke-opacity="0.9"/><rect x="485.7" y="303.6" width="6.6" height="14.5" fill="#f93c49" stroke="#4a0c1a" stroke-width="1.0" stroke-opacity="0.8" paint-order="stroke"/><line x1="494.8" x2="494.8" y1="317.0" y2="326.4" stroke="#f93c49" stroke-width="0.9" stroke-opacity="0.9"/><rect x="492.2" y="318.2" width="5.2" height="7.7" fill="#f93c49" stroke="#4a0c1a" stroke-width="1.0" stroke-opacity="0.8" paint-order="stroke"/><line x1="499.5" x2="499.5" y1="321.7" y2="343.9" stroke="#f93c49" stroke-width="0.9" stroke-opacity="0.9"/><rect x="496.2" y="321.7" width="6.6" height="21.6" fill="#f93c49" stroke="#4a0c1a" stroke-width="1.0" stroke-opacity="0.8" paint-order="stroke"/>
<line x1="119.2" x2="504.4" y1="405.4" y2="405.4" stroke="#cfd2dc" stroke-width="1"/>
<line x1="504.4" x2="504.4" y1="285.4" y2="405.4" stroke="#cfd2dc" stroke-width="1"/>
<g stroke="#cfd2dc" stroke-width="1"><line x1="504.4" x2="508" y1="303" y2="303"/><line x1="504.4" x2="508" y1="354.5" y2="354.5"/><line x1="504.4" x2="508" y1="405.4" y2="405.4"/></g>
<rect x="504.4" y="327.8" width="21.8" height="10.4" rx="1.5" fill="#5fdc3a"/>
<rect x="504.4" y="375.3" width="22.2" height="9.9" rx="1.5" fill="#f23c40"/>
<text x="509.5" y="336.6" font-family="Liberation Sans" font-size="8.5" font-weight="bold" fill="#a6f28a" letter-spacing="-0.2">5:30</text>
<text x="509.5" y="343.2" font-family="Liberation Sans" font-size="8" fill="#c9ccd6" letter-spacing="-0.2" opacity="0.55">4.00</text>
<text x="509.5" y="383.4" font-family="Liberation Sans" font-size="8.5" font-weight="bold" fill="#ff8f92" letter-spacing="-0.2">5:60</text>

<!-- panel5 -->
<polygon fill="#b8171b" points="551.7,408.8 551.7,363.2 558.7,362.2 562.3,356.8 565.8,351.4 569.3,341.6 572.8,328.7 577.5,318.2 582.2,315.4 586.9,314.7 590.4,311.1 595.1,310.4 598.6,316.3 603.3,321.7 607.9,325.2 612.6,325.7 617.3,325.9 620.8,330.4 625.5,338.1 630.2,347.5 634.9,352.1 638.4,356.1 643.1,357.1 647.8,357.1 652.5,357.1 657.2,360.3 661.8,364.6 666.5,369.3 671.2,370.9 675.9,370.9 680.6,369.7 685.3,364.6 688.8,359.2 693.5,354.5 698.2,352.1 702.8,351.4 707.5,352.1 711.0,354.5 714.6,360.8 718.1,362.7 721.6,363.9 725.1,368.5 730.0,372.1 737.0,373.9 741.7,370.9 746.4,370.2 753.4,370.4 760.5,370.9 764.0,373.9 768.7,379.1 773.3,385.0 778.0,389.6 782.7,391.3 788.6,391.3 793.3,390.3 797.9,385.7 802.6,379.1 807.3,372.1 812.0,368.5 816.7,364.6 820.2,363.4 823.7,365.0 827.2,367.8 830.7,370.4 835.4,371.4 840.1,370.9 844.8,369.7 848.3,366.2 851.8,360.3 855.4,355.7 857.7,350.5 861.2,347.5 864.7,345.1 868.2,341.6 871.8,340.4 876.4,341.1 880.0,338.1 883.5,335.0 887.0,333.4 890.0,332.2 892.1,324.0 895.2,321.7 896.8,312.3 899.2,311.1 900.3,302.9 903.4,302.2 903.9,408.8"/><rect x="551.7" y="363.0" width="3.1" height="45.8" fill="#f8413f"/><rect x="556.1" y="362.4" width="3.1" height="46.4" fill="#f8413f"/><rect x="560.5" y="357.1" width="3.1" height="51.7" fill="#f8413f"/><rect x="564.9" y="349.5" width="3.1" height="59.3" fill="#f8413f"/><rect x="569.3" y="335.8" width="3.1" height="73.0" fill="#f8413f"/><rect x="573.7" y="323.2" width="3.1" height="85.6" fill="#f8413f"/><rect x="578.1" y="316.9" width="3.1" height="91.9" fill="#f8413f"/><rect x="582.5" y="315.1" width="3.1" height="93.7" fill="#f8413f"/><rect x="586.9" y="313.0" width="3.1" height="95.8" fill="#f8413f"/><rect x="591.3" y="310.8" width="3.1" height="98.0" fill="#f8413f"/><rect x="595.7" y="314.1" width="3.1" height="94.7" fill="#f8413f"/><rect x="600.1" y="319.9" width="3.1" height="88.9" fill="#f8413f"/><rect x="604.5" y="323.8" width="3.1" height="85.0" fill="#f8413f"/><rect x="608.9" y="325.5" width="3.1" height="83.3" fill="#f8413f"/><rect x="613.3" y="325.8" width="3.1" height="83.0" fill="#f8413f"/><rect x="617.7" y="328.4" width="3.1" height="80.4" fill="#f8413f"/><rect x="622.1" y="335.1" width="3.1" height="73.7" fill="#f8413f"/><rect x="626.5" y="343.2" width="3.1" height="65.6" fill="#f8413f"/><rect x="630.9" y="349.8" width="3.1" height="59.0" fill="#f8413f"/><rect x="635.3" y="354.4" width="3.1" height="54.4" fill="#f8413f"/><rect x="639.8" y="356.7" width="3.1" height="52.1" fill="#f8413f"/><rect x="644.2" y="357.1" width="3.1" height="51.7" fill="#f8413f"/><rect x="648.6" y="357.1" width="3.1" height="51.7" fill="#f8413f"/><rect x="653.0" y="358.5" width="3.1" height="50.3" fill="#f8413f"/><rect x="657.4" y="361.9" width="3.1" height="46.9" fill="#f8413f"/><rect x="661.8" y="366.0" width="3.1" height="42.8" fill="#f8413f"/><rect x="666.2" y="369.7" width="3.1" height="39.1" fill="#f8413f"/><rect x="670.6" y="370.9" width="3.1" height="37.9" fill="#f8413f"/><rect x="675.0" y="370.7" width="3.1" height="38.1" fill="#f8413f"/><rect x="679.4" y="369.3" width="3.1" height="39.5" fill="#f8413f"/><rect x="683.8" y="364.5" width="3.1" height="44.3" fill="#f8413f"/><rect x="688.2" y="358.2" width="3.1" height="50.6" fill="#f8413f"/><rect x="692.6" y="354.2" width="3.1" height="54.6" fill="#f8413f"/><rect x="697.0" y="352.1" width="3.1" height="56.7" fill="#f8413f"/><rect x="701.4" y="351.5" width="3.1" height="57.3" fill="#f8413f"/><rect x="705.8" y="352.1" width="3.1" height="56.7" fill="#f8413f"/><rect x="710.2" y="355.8" width="3.1" height="53.0" fill="#f8413f"/><rect x="714.6" y="361.7" width="3.1" height="47.1" fill="#f8413f"/><rect x="719.0" y="363.5" width="3.1" height="45.3" fill="#f8413f"/><rect x="723.4" y="368.3" width="3.1" height="40.5" fill="#f8413f"/><rect x="727.8" y="371.6" width="3.1" height="37.2" fill="#f8413f"/><rect x="732.2" y="373.1" width="3.1" height="35.7" fill="#f8413f"/><rect x="736.6" y="373.2" width="3.1" height="35.6" fill="#f8413f"/><rect x="741.0" y="370.8" width="3.1" height="38.0" fill="#f8413f"/><rect x="745.4" y="370.2" width="3.1" height="38.6" fill="#f8413f"/><rect x="749.8" y="370.4" width="3.1" height="38.4" fill="#f8413f"/><rect x="754.2" y="370.6" width="3.1" height="38.2" fill="#f8413f"/><rect x="758.6" y="370.9" width="3.1" height="37.9" fill="#f8413f"/><rect x="763.0" y="374.6" width="3.1" height="34.2" fill="#f8413f"/><rect x="767.4" y="379.5" width="3.1" height="29.3" fill="#f8413f"/><rect x="771.8" y="385.0" width="3.1" height="23.8" fill="#f8413f"/><rect x="776.2" y="389.4" width="3.1" height="19.4" fill="#f8413f"/><rect x="780.6" y="391.1" width="3.1" height="17.7" fill="#f8413f"/><rect x="785.0" y="391.3" width="3.1" height="17.5" fill="#f8413f"/><rect x="789.4" y="390.8" width="3.1" height="18.0" fill="#f8413f"/><rect x="793.8" y="388.2" width="3.1" height="20.6" fill="#f8413f"/><rect x="798.2" y="383.1" width="3.1" height="25.7" fill="#f8413f"/><rect x="802.6" y="376.8" width="3.1" height="32.0" fill="#f8413f"/><rect x="807.0" y="371.1" width="3.1" height="37.7" fill="#f8413f"/><rect x="811.4" y="367.7" width="3.1" height="41.1" fill="#f8413f"/><rect x="815.8" y="364.3" width="3.1" height="44.5" fill="#f8413f"/><rect x="820.3" y="364.1" width="3.1" height="44.7" fill="#f8413f"/><rect x="824.7" y="367.0" width="3.1" height="41.8" fill="#f8413f"/><rect x="829.1" y="370.3" width="3.1" height="38.5" fill="#f8413f"/><rect x="833.5" y="371.3" width="3.1" height="37.5" fill="#f8413f"/><rect x="837.9" y="371.0" width="3.1" height="37.8" fill="#f8413f"/><rect x="842.3" y="370.0" width="3.1" height="38.8" fill="#f8413f"/><rect x="846.7" y="366.3" width="3.1" height="42.5" fill="#f8413f"/><rect x="851.1" y="359.3" width="3.1" height="49.5" fill="#f8413f"/><rect x="855.5" y="352.0" width="3.1" height="56.8" fill="#f8413f"/><rect x="859.9" y="347.3" width="3.1" height="61.5" fill="#f8413f"/><rect x="864.3" y="344.0" width="3.1" height="64.8" fill="#f8413f"/><rect x="868.7" y="340.9" width="3.1" height="67.9" fill="#f8413f"/><rect x="873.1" y="340.9" width="3.1" height="67.9" fill="#f8413f"/><rect x="877.5" y="338.9" width="3.1" height="69.9" fill="#f8413f"/><rect x="881.9" y="335.1" width="3.1" height="73.7" fill="#f8413f"/><rect x="886.3" y="333.1" width="3.1" height="75.7" fill="#f8413f"/><rect x="890.7" y="323.9" width="3.1" height="84.9" fill="#f8413f"/><rect x="895.1" y="313.3" width="3.1" height="95.5" fill="#f8413f"/><rect x="899.5" y="302.8" width="3.1" height="106.0" fill="#f8413f"/><polygon fill="#7a1f30" fill-opacity="0.93" points="701.9,408.8 701.9,408.8 720.6,407.2 730.0,406.7 739.4,405.6 748.7,403.7 758.1,402.5 767.5,400.6 776.9,399.0 786.2,397.4 795.6,395.0 802.6,390.8 809.7,386.1 815.5,384.2 823.7,384.2 830.7,385.0 837.8,388.0 844.8,390.1 851.8,390.1 858.9,388.9 865.9,385.7 872.9,382.6 880.0,381.4 887.0,380.7 891.7,376.7 896.4,372.1 901.0,369.3 903.9,369.0 903.9,408.8"/><rect x="704.4" y="408.6" width="1.35" height="0.2" fill="#5e1626"/><rect x="708.8" y="408.2" width="1.35" height="0.6" fill="#5e1626"/><rect x="713.2" y="407.9" width="1.35" height="0.9" fill="#5e1626"/><rect x="717.6" y="407.5" width="1.35" height="1.3" fill="#5e1626"/><rect x="722.0" y="407.1" width="1.35" height="1.7" fill="#5e1626"/><rect x="726.5" y="406.9" width="1.35" height="1.9" fill="#5e1626"/><rect x="730.9" y="406.6" width="1.35" height="2.2" fill="#5e1626"/><rect x="735.3" y="406.1" width="1.35" height="2.7" fill="#5e1626"/><rect x="739.7" y="405.5" width="1.35" height="3.3" fill="#5e1626"/><rect x="744.1" y="404.6" width="1.35" height="4.2" fill="#5e1626"/><rect x="748.5" y="403.8" width="1.35" height="5.0" fill="#5e1626"/><rect x="752.9" y="403.2" width="1.35" height="5.6" fill="#5e1626"/><rect x="757.3" y="402.6" width="1.35" height="6.2" fill="#5e1626"/><rect x="761.7" y="401.8" width="1.35" height="7.0" fill="#5e1626"/><rect x="766.1" y="400.9" width="1.35" height="7.9" fill="#5e1626"/><rect x="770.5" y="400.1" width="1.35" height="8.7" fill="#5e1626"/><rect x="774.9" y="399.4" width="1.35" height="9.4" fill="#5e1626"/><rect x="779.3" y="398.6" width="1.35" height="10.2" fill="#5e1626"/><rect x="783.7" y="397.8" width="1.35" height="11.0" fill="#5e1626"/><rect x="788.1" y="396.9" width="1.35" height="11.9" fill="#5e1626"/><rect x="792.5" y="395.8" width="1.35" height="13.0" fill="#5e1626"/><rect x="796.9" y="394.3" width="1.35" height="14.5" fill="#5e1626"/><rect x="801.3" y="391.6" width="1.35" height="17.2" fill="#5e1626"/><rect x="805.7" y="388.8" width="1.35" height="20.0" fill="#5e1626"/><rect x="810.1" y="386.0" width="1.35" height="22.8" fill="#5e1626"/><rect x="814.5" y="384.6" width="1.35" height="24.2" fill="#5e1626"/><rect x="818.9" y="384.2" width="1.35" height="24.6" fill="#5e1626"/><rect x="823.3" y="384.2" width="1.35" height="24.6" fill="#5e1626"/><rect x="827.7" y="384.6" width="1.35" height="24.2" fill="#5e1626"/><rect x="832.1" y="385.5" width="1.35" height="23.3" fill="#5e1626"/><rect x="836.5" y="387.4" width="1.35" height="21.4" fill="#5e1626"/><rect x="840.9" y="388.9" width="1.35" height="19.9" fill="#5e1626"/><rect x="845.3" y="390.1" width="1.35" height="18.7" fill="#5e1626"/><rect x="849.7" y="390.1" width="1.35" height="18.7" fill="#5e1626"/><rect x="854.1" y="389.7" width="1.35" height="19.1" fill="#5e1626"/><rect x="858.5" y="389.0" width="1.35" height="19.8" fill="#5e1626"/><rect x="862.9" y="387.0" width="1.35" height="21.8" fill="#5e1626"/><rect x="867.3" y="385.0" width="1.35" height="23.8" fill="#5e1626"/><rect x="871.7" y="383.1" width="1.35" height="25.7" fill="#5e1626"/><rect x="876.1" y="382.1" width="1.35" height="26.7" fill="#5e1626"/><rect x="880.5" y="381.4" width="1.35" height="27.4" fill="#5e1626"/><rect x="884.9" y="380.9" width="1.35" height="27.9" fill="#5e1626"/><rect x="889.3" y="378.7" width="1.35" height="30.1" fill="#5e1626"/><rect x="893.7" y="374.7" width="1.35" height="34.1" fill="#5e1626"/><rect x="898.1" y="371.0" width="1.35" height="37.8" fill="#5e1626"/><rect x="902.5" y="369.1" width="1.35" height="39.7" fill="#5e1626"/>
<circle cx="887" cy="288.9" r="3.2" fill="#2a2f42" stroke="#7b8093" stroke-width="1.1"/><circle cx="899.2" cy="288.9" r="3.2" fill="#2a2f42" stroke="#7b8093" stroke-width="1.1"/><path d="M887,285.9 v6 a3,3 0 0 1 0,-6z" fill="#7b8093"/><path d="M897.4,289.6 a1.8,1.8 0 0 1 3.6,0z" fill="#7b8093"/>

<!-- panel6 -->
<path d="M118.1,480.4C119.8,480.4 125.8,480.9 128.4,480.4C131.0,480.0 131.5,479.2 133.8,477.6C136.1,476.1 139.7,472.6 142.4,471.2C145.1,469.8 147.4,469.0 149.9,469.0C152.4,469.0 154.6,470.3 157.4,471.2C160.3,472.1 164.2,474.2 167.1,474.4C170.0,474.6 172.1,473.1 174.6,472.3C177.1,471.5 178.5,470.1 182.1,469.7C185.7,469.3 192.7,469.2 196.1,469.7C199.5,470.2 199.7,471.2 202.5,472.7C205.4,474.2 209.7,477.2 213.3,478.7C216.9,480.3 220.8,481.7 224.0,481.9C227.3,482.2 229.6,481.0 232.6,480.2C235.7,479.4 239.4,477.6 242.3,477.2C245.2,476.9 247.1,477.5 249.8,478.1C252.5,478.6 255.5,479.9 258.4,480.4C261.3,481.0 264.1,481.9 267.0,481.3C269.9,480.7 272.4,479.1 275.6,476.6C278.8,474.0 282.8,469.2 286.3,465.8C289.9,462.4 294.4,458.1 297.1,456.2C299.8,454.2 300.5,454.2 302.5,454.0C304.4,453.8 306.6,454.5 308.9,455.1C311.2,455.7 314.1,457.4 316.4,457.7C318.8,457.9 321.2,457.1 322.9,456.6C324.5,456.1 324.8,455.1 326.4,454.7C328.1,454.2 330.9,453.6 332.9,454.0C334.9,454.4 336.3,455.6 338.3,456.8C340.2,458.0 342.6,460.1 344.7,461.1C346.9,462.1 348.8,463.1 351.2,463.0C353.5,462.9 356.2,461.3 358.7,460.5C361.2,459.6 363.9,458.1 366.2,457.7C368.5,457.2 370.5,457.3 372.6,457.7C374.8,458.0 376.9,458.7 379.1,459.8C381.2,460.9 383.4,462.2 385.5,464.1C387.7,466.0 389.8,469.1 392.0,471.2C394.1,473.3 396.5,475.4 398.4,476.6C400.4,477.7 401.7,478.0 403.8,478.1C405.9,478.2 409.0,477.5 411.3,477.2C413.6,477.0 415.8,476.2 417.8,476.6C419.7,476.9 421.2,478.1 423.1,479.1C425.1,480.2 427.4,482.0 429.6,483.0C431.7,484.0 433.9,485.0 436.0,485.2C438.2,485.3 440.3,484.6 442.5,484.1C444.6,483.6 447.0,482.4 448.9,481.9C450.9,481.5 452.3,481.2 454.3,481.5C456.3,481.9 458.4,483.3 460.7,484.1C463.1,484.9 465.9,485.9 468.3,486.2C470.6,486.6 472.6,486.6 474.7,486.2C476.9,485.9 479.2,484.6 481.2,484.1C483.1,483.6 484.4,482.8 486.5,483.0C488.7,483.2 491.2,484.6 494.0,485.2C496.9,485.7 502.1,486.1 503.7,486.2" fill="none" stroke="#d4a63a" stroke-width="1.25" stroke-linecap="round"/>
<line x1="505.2" x2="505.2" y1="446" y2="500" stroke="#262b3d" stroke-width="1"/>
<circle cx="482.7" cy="438.3" r="3.1" fill="#5a5f72"/><circle cx="495.5" cy="438.3" r="3.1" fill="none" stroke="#6a6f84" stroke-width="1.2"/>

<!-- panel7 -->
<clipPath id="c7"><path d="M551.5,477.3C552.5,477.2 555.7,477.1 557.6,476.6C559.6,476.1 561.5,475.3 563.2,474.2C564.9,473.0 566.1,471.5 567.8,469.5C569.5,467.5 571.7,464.0 573.4,462.1C575.1,460.2 576.2,458.9 578.0,458.0C579.9,457.2 582.5,457.5 584.5,456.9C586.5,456.4 588.4,455.2 590.1,454.7C591.8,454.2 593.3,453.8 594.7,454.1C596.1,454.4 597.1,455.4 598.5,456.5C599.8,457.7 601.5,459.8 603.1,461.2C604.6,462.6 606.3,464.0 607.7,464.9C609.1,465.8 609.3,466.4 611.4,466.8C613.6,467.1 618.6,466.4 620.7,466.8C622.9,467.1 623.0,467.8 624.4,468.6C625.8,469.4 627.4,471.1 629.1,471.8C630.8,472.5 632.2,472.7 634.6,472.9C637.1,473.1 640.8,472.9 643.9,472.9C647.0,472.9 650.7,472.4 653.2,472.9C655.7,473.3 656.9,474.5 658.8,475.5C660.6,476.5 662.5,477.9 664.3,478.8C666.2,479.7 667.7,480.3 669.9,480.7C672.1,481.0 675.2,481.1 677.3,481.0C679.5,481.0 681.0,481.1 682.9,480.3C684.7,479.5 686.6,477.3 688.5,476.0C690.3,474.8 692.2,473.6 694.0,472.9C695.9,472.1 697.7,471.5 699.6,471.4C701.4,471.3 703.3,471.7 705.2,472.3C707.0,472.9 709.0,474.2 710.7,475.1C712.4,476.0 713.3,477.3 715.4,477.9C717.4,478.5 720.8,478.2 722.8,478.8C724.8,479.4 726.2,480.8 727.4,481.6C728.6,482.4 728.7,482.9 730.0,483.5C731.4,484.0 733.4,484.7 735.6,484.8C737.7,484.8 740.5,484.3 743.0,484.0C745.5,483.7 747.6,483.1 750.4,482.9C753.2,482.6 757.2,482.3 759.7,482.5C762.2,482.8 763.1,483.6 765.3,484.4C767.4,485.2 770.2,486.4 772.7,487.2C775.2,487.9 777.6,488.8 780.1,489.0C782.6,489.2 785.2,488.8 787.5,488.5C789.8,488.2 792.2,488.2 794.0,487.2C795.9,486.2 797.0,483.9 798.7,482.5C800.4,481.1 802.4,480.0 804.2,478.8C806.1,477.7 807.9,476.4 809.8,475.7C811.6,474.9 813.5,474.8 815.4,474.5C817.2,474.3 819.1,473.9 820.9,474.2C822.8,474.4 824.5,475.3 826.5,476.0C828.5,476.7 830.8,477.9 833.0,478.4C835.2,479.0 837.5,479.4 839.5,479.4C841.5,479.3 843.2,479.0 845.0,478.3C846.9,477.5 848.8,476.0 850.6,474.7C852.5,473.4 854.3,471.7 856.2,470.5C858.0,469.2 859.9,467.9 861.7,467.1C863.6,466.3 865.6,466.1 867.3,465.8C869.0,465.5 870.1,465.4 872.0,465.5C873.8,465.5 876.4,466.5 878.5,466.4C880.5,466.3 882.2,465.5 884.0,464.9C885.9,464.3 888.0,464.1 889.6,463.0C891.1,462.0 892.1,460.1 893.3,458.4C894.5,456.7 895.8,454.3 897.0,452.8C898.2,451.3 899.6,450.1 900.7,449.5C901.8,448.9 903.0,449.2 903.5,449.1L903.9,499.8L551.5,499.8Z"/></clipPath><path d="M551.5,477.3C552.5,477.2 555.7,477.1 557.6,476.6C559.6,476.1 561.5,475.3 563.2,474.2C564.9,473.0 566.1,471.5 567.8,469.5C569.5,467.5 571.7,464.0 573.4,462.1C575.1,460.2 576.2,458.9 578.0,458.0C579.9,457.2 582.5,457.5 584.5,456.9C586.5,456.4 588.4,455.2 590.1,454.7C591.8,454.2 593.3,453.8 594.7,454.1C596.1,454.4 597.1,455.4 598.5,456.5C599.8,457.7 601.5,459.8 603.1,461.2C604.6,462.6 606.3,464.0 607.7,464.9C609.1,465.8 609.3,466.4 611.4,466.8C613.6,467.1 618.6,466.4 620.7,466.8C622.9,467.1 623.0,467.8 624.4,468.6C625.8,469.4 627.4,471.1 629.1,471.8C630.8,472.5 632.2,472.7 634.6,472.9C637.1,473.1 640.8,472.9 643.9,472.9C647.0,472.9 650.7,472.4 653.2,472.9C655.7,473.3 656.9,474.5 658.8,475.5C660.6,476.5 662.5,477.9 664.3,478.8C666.2,479.7 667.7,480.3 669.9,480.7C672.1,481.0 675.2,481.1 677.3,481.0C679.5,481.0 681.0,481.1 682.9,480.3C684.7,479.5 686.6,477.3 688.5,476.0C690.3,474.8 692.2,473.6 694.0,472.9C695.9,472.1 697.7,471.5 699.6,471.4C701.4,471.3 703.3,471.7 705.2,472.3C707.0,472.9 709.0,474.2 710.7,475.1C712.4,476.0 713.3,477.3 715.4,477.9C717.4,478.5 720.8,478.2 722.8,478.8C724.8,479.4 726.2,480.8 727.4,481.6C728.6,482.4 728.7,482.9 730.0,483.5C731.4,484.0 733.4,484.7 735.6,484.8C737.7,484.8 740.5,484.3 743.0,484.0C745.5,483.7 747.6,483.1 750.4,482.9C753.2,482.6 757.2,482.3 759.7,482.5C762.2,482.8 763.1,483.6 765.3,484.4C767.4,485.2 770.2,486.4 772.7,487.2C775.2,487.9 777.6,488.8 780.1,489.0C782.6,489.2 785.2,488.8 787.5,488.5C789.8,488.2 792.2,488.2 794.0,487.2C795.9,486.2 797.0,483.9 798.7,482.5C800.4,481.1 802.4,480.0 804.2,478.8C806.1,477.7 807.9,476.4 809.8,475.7C811.6,474.9 813.5,474.8 815.4,474.5C817.2,474.3 819.1,473.9 820.9,474.2C822.8,474.4 824.5,475.3 826.5,476.0C828.5,476.7 830.8,477.9 833.0,478.4C835.2,479.0 837.5,479.4 839.5,479.4C841.5,479.3 843.2,479.0 845.0,478.3C846.9,477.5 848.8,476.0 850.6,474.7C852.5,473.4 854.3,471.7 856.2,470.5C858.0,469.2 859.9,467.9 861.7,467.1C863.6,466.3 865.6,466.1 867.3,465.8C869.0,465.5 870.1,465.4 872.0,465.5C873.8,465.5 876.4,466.5 878.5,466.4C880.5,466.3 882.2,465.5 884.0,464.9C885.9,464.3 888.0,464.1 889.6,463.0C891.1,462.0 892.1,460.1 893.3,458.4C894.5,456.7 895.8,454.3 897.0,452.8C898.2,451.3 899.6,450.1 900.7,449.5C901.8,448.9 903.0,449.2 903.5,449.1L903.9,499.8L551.5,499.8Z" fill="#72dc46"/><g clip-path="url(#c7)" fill="#44a41f"><rect x="555.3" y="0" width="1.3" height="640"/><rect x="559.7" y="0" width="1.3" height="640"/><rect x="564.1" y="0" width="1.3" height="640"/><rect x="568.5" y="0" width="1.3" height="640"/><rect x="572.9" y="0" width="1.3" height="640"/><rect x="577.3" y="0" width="1.3" height="640"/><rect x="581.7" y="0" width="1.3" height="640"/><rect x="586.1" y="0" width="1.3" height="640"/><rect x="590.5" y="0" width="1.3" height="640"/><rect x="594.9" y="0" width="1.3" height="640"/><rect x="599.3" y="0" width="1.3" height="640"/><rect x="603.7" y="0" width="1.3" height="640"/><rect x="608.1" y="0" width="1.3" height="640"/><rect x="612.5" y="0" width="1.3" height="640"/><rect x="616.9" y="0" width="1.3" height="640"/><rect x="621.3" y="0" width="1.3" height="640"/><rect x="625.7" y="0" width="1.3" height="640"/><rect x="630.1" y="0" width="1.3" height="640"/><rect x="634.5" y="0" width="1.3" height="640"/><rect x="639.0" y="0" width="1.3" height="640"/><rect x="643.4" y="0" width="1.3" height="640"/><rect x="647.8" y="0" width="1.3" height="640"/><rect x="652.2" y="0" width="1.3" height="640"/><rect x="656.6" y="0" width="1.3" height="640"/><rect x="661.0" y="0" width="1.3" height="640"/><rect x="665.4" y="0" width="1.3" height="640"/><rect x="669.8" y="0" width="1.3" height="640"/><rect x="674.2" y="0" width="1.3" height="640"/><rect x="678.6" y="0" width="1.3" height="640"/><rect x="683.0" y="0" width="1.3" height="640"/><rect x="687.4" y="0" width="1.3" height="640"/><rect x="691.8" y="0" width="1.3" height="640"/><rect x="696.2" y="0" width="1.3" height="640"/><rect x="700.6" y="0" width="1.3" height="640"/><rect x="705.0" y="0" width="1.3" height="640"/><rect x="709.4" y="0" width="1.3" height="640"/><rect x="713.8" y="0" width="1.3" height="640"/><rect x="718.2" y="0" width="1.3" height="640"/><rect x="722.6" y="0" width="1.3" height="640"/><rect x="727.1" y="0" width="1.3" height="640"/><rect x="731.5" y="0" width="1.3" height="640"/><rect x="735.9" y="0" width="1.3" height="640"/><rect x="740.3" y="0" width="1.3" height="640"/><rect x="744.7" y="0" width="1.3" height="640"/><rect x="749.1" y="0" width="1.3" height="640"/><rect x="753.5" y="0" width="1.3" height="640"/><rect x="757.9" y="0" width="1.3" height="640"/><rect x="762.3" y="0" width="1.3" height="640"/><rect x="766.7" y="0" width="1.3" height="640"/><rect x="771.1" y="0" width="1.3" height="640"/><rect x="775.5" y="0" width="1.3" height="640"/><rect x="779.9" y="0" width="1.3" height="640"/><rect x="784.3" y="0" width="1.3" height="640"/><rect x="788.7" y="0" width="1.3" height="640"/><rect x="793.1" y="0" width="1.3" height="640"/><rect x="797.5" y="0" width="1.3" height="640"/><rect x="801.9" y="0" width="1.3" height="640"/><rect x="806.3" y="0" width="1.3" height="640"/><rect x="810.7" y="0" width="1.3" height="640"/><rect x="815.1" y="0" width="1.3" height="640"/><rect x="819.6" y="0" width="1.3" height="640"/><rect x="824.0" y="0" width="1.3" height="640"/><rect x="828.4" y="0" width="1.3" height="640"/><rect x="832.8" y="0" width="1.3" height="640"/><rect x="837.2" y="0" width="1.3" height="640"/><rect x="841.6" y="0" width="1.3" height="640"/><rect x="846.0" y="0" width="1.3" height="640"/><rect x="850.4" y="0" width="1.3" height="640"/><rect x="854.8" y="0" width="1.3" height="640"/><rect x="859.2" y="0" width="1.3" height="640"/><rect x="863.6" y="0" width="1.3" height="640"/><rect x="868.0" y="0" width="1.3" height="640"/><rect x="872.4" y="0" width="1.3" height="640"/><rect x="876.8" y="0" width="1.3" height="640"/><rect x="881.2" y="0" width="1.3" height="640"/><rect x="885.6" y="0" width="1.3" height="640"/><rect x="890.0" y="0" width="1.3" height="640"/><rect x="894.4" y="0" width="1.3" height="640"/><rect x="898.8" y="0" width="1.3" height="640"/></g><path d="M551.5,477.3C552.5,477.2 555.7,477.1 557.6,476.6C559.6,476.1 561.5,475.3 563.2,474.2C564.9,473.0 566.1,471.5 567.8,469.5C569.5,467.5 571.7,464.0 573.4,462.1C575.1,460.2 576.2,458.9 578.0,458.0C579.9,457.2 582.5,457.5 584.5,456.9C586.5,456.4 588.4,455.2 590.1,454.7C591.8,454.2 593.3,453.8 594.7,454.1C596.1,454.4 597.1,455.4 598.5,456.5C599.8,457.7 601.5,459.8 603.1,461.2C604.6,462.6 606.3,464.0 607.7,464.9C609.1,465.8 609.3,466.4 611.4,466.8C613.6,467.1 618.6,466.4 620.7,466.8C622.9,467.1 623.0,467.8 624.4,468.6C625.8,469.4 627.4,471.1 629.1,471.8C630.8,472.5 632.2,472.7 634.6,472.9C637.1,473.1 640.8,472.9 643.9,472.9C647.0,472.9 650.7,472.4 653.2,472.9C655.7,473.3 656.9,474.5 658.8,475.5C660.6,476.5 662.5,477.9 664.3,478.8C666.2,479.7 667.7,480.3 669.9,480.7C672.1,481.0 675.2,481.1 677.3,481.0C679.5,481.0 681.0,481.1 682.9,480.3C684.7,479.5 686.6,477.3 688.5,476.0C690.3,474.8 692.2,473.6 694.0,472.9C695.9,472.1 697.7,471.5 699.6,471.4C701.4,471.3 703.3,471.7 705.2,472.3C707.0,472.9 709.0,474.2 710.7,475.1C712.4,476.0 713.3,477.3 715.4,477.9C717.4,478.5 720.8,478.2 722.8,478.8C724.8,479.4 726.2,480.8 727.4,481.6C728.6,482.4 728.7,482.9 730.0,483.5C731.4,484.0 733.4,484.7 735.6,484.8C737.7,484.8 740.5,484.3 743.0,484.0C745.5,483.7 747.6,483.1 750.4,482.9C753.2,482.6 757.2,482.3 759.7,482.5C762.2,482.8 763.1,483.6 765.3,484.4C767.4,485.2 770.2,486.4 772.7,487.2C775.2,487.9 777.6,488.8 780.1,489.0C782.6,489.2 785.2,488.8 787.5,488.5C789.8,488.2 792.2,488.2 794.0,487.2C795.9,486.2 797.0,483.9 798.7,482.5C800.4,481.1 802.4,480.0 804.2,478.8C806.1,477.7 807.9,476.4 809.8,475.7C811.6,474.9 813.5,474.8 815.4,474.5C817.2,474.3 819.1,473.9 820.9,474.2C822.8,474.4 824.5,475.3 826.5,476.0C828.5,476.7 830.8,477.9 833.0,478.4C835.2,479.0 837.5,479.4 839.5,479.4C841.5,479.3 843.2,479.0 845.0,478.3C846.9,477.5 848.8,476.0 850.6,474.7C852.5,473.4 854.3,471.7 856.2,470.5C858.0,469.2 859.9,467.9 861.7,467.1C863.6,466.3 865.6,466.1 867.3,465.8C869.0,465.5 870.1,465.4 872.0,465.5C873.8,465.5 876.4,466.5 878.5,466.4C880.5,466.3 882.2,465.5 884.0,464.9C885.9,464.3 888.0,464.1 889.6,463.0C891.1,462.0 892.1,460.1 893.3,458.4C894.5,456.7 895.8,454.3 897.0,452.8C898.2,451.3 899.6,450.1 900.7,449.5C901.8,448.9 903.0,449.2 903.5,449.1" fill="none" stroke="#2f7a22" stroke-width="0.8"/>
<circle cx="886.8" cy="438.4" r="3.5" fill="#7c8194"/><circle cx="898.9" cy="438.4" r="3.5" fill="#7c8194"/>
<rect x="886.3" y="436" width="1" height="3.2" fill="#1b2032"/><rect x="886.3" y="440" width="1" height="1" fill="#1b2032"/>
<path d="M897,437.2 h3.8 l-1.9,2.8z" fill="#1b2032"/>
</svg>
</body></html>
